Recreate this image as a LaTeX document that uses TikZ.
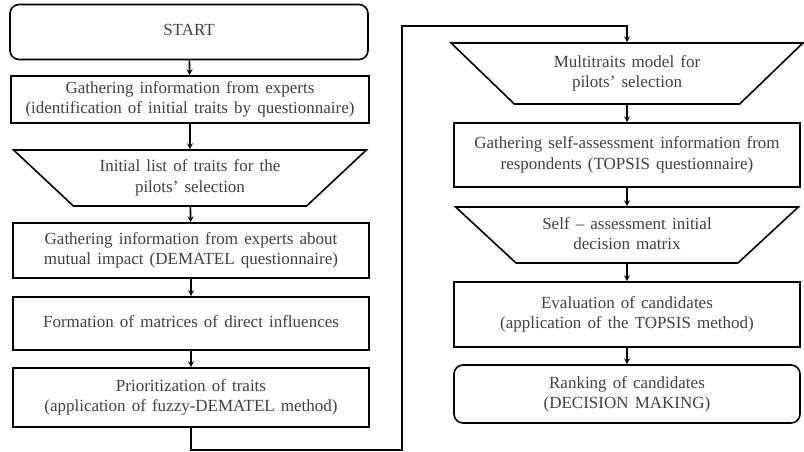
\documentclass[tikz,border=0pt]{standalone}
\usepackage{fontspec}
\setmainfont{Liberation Serif}
\usetikzlibrary{shapes.geometric}
\newcommand{\boxfont}{\fontsize{17}{20}\selectfont\spaceskip=0.36em plus 0.1em}
\tikzstyle{block} = [rectangle, draw, line width=1.6pt, inner sep=0pt, text=black!75, font=\boxfont]
\tikzstyle{startstop} = [block, rounded corners=9pt]
\tikzstyle{datablock} = [trapezium, draw, line width=1.6pt, inner sep=0pt, trapezium stretches=true, shape border rotate=180, text=black!75, font=\boxfont]
\tikzstyle{arrow} = [line width=1.6pt,->,>=stealth]

\begin{document}
\begin{tikzpicture}[x = 1pt, y = -1pt]
\useasboundingbox (0,0) rectangle (804,452);

% ----------------------------------------------------
% left column (fuzzy-DEMATEL part)
% ----------------------------------------------------

  \node (start) [startstop, minimum width=358pt, minimum height=55pt] at (189, 32) {
  \begin{tabular}{c}
    START
  \end{tabular}
  };
  \node (experts) [block, minimum width=358pt, minimum height=47pt] at (190, 99.5) {
  \begin{tabular}{c}
    Gathering information from experts \\
    (identification of initial traits by questionnaire)
  \end{tabular}
  };
  \node (initlist) [datablock, trapezium left angle=39, trapezium right angle=39,
        minimum width=354pt, minimum height=56pt] at (190, 178) {
  \begin{tabular}{c}
    Initial list of traits for the \\
    pilots' selection
  \end{tabular}
  };
  \node (impact) [block, minimum width=356pt, minimum height=55pt] at (191, 250.5) {
  \begin{tabular}{c}
    Gathering information from experts about \\
    mutual impact (DEMATEL questionnaire)
  \end{tabular}
  };
  \node (matrices) [block, minimum width=356pt, minimum height=53pt] at (191, 323.5) {
  \begin{tabular}{c}
    Formation of matrices of direct influences
  \end{tabular}
  };
  \node (priority) [block, minimum width=356pt, minimum height=59pt] at (191, 397.5) {
  \begin{tabular}{c}
    Prioritization of traits \\
    (application of fuzzy-DEMATEL method)
  \end{tabular}
  };

% ----------------------------------------------------
% right column (TOPSIS part)
% ----------------------------------------------------

  \node (model) [datablock, trapezium left angle=42, trapezium right angle=42,
        minimum width=352pt, minimum height=61pt] at (627, 73.5) {
  \begin{tabular}{c}
    Multitraits model for \\
    pilots' selection
  \end{tabular}
  };
  \node (selfinfo) [block, minimum width=346pt, minimum height=64pt] at (627, 155) {
  \begin{tabular}{c}
    Gathering self-assessment information from \\
    respondents (TOPSIS questionnaire)
  \end{tabular}
  };
  \node (selfmatrix) [datablock, trapezium left angle=39, trapezium right angle=39,
        minimum width=344pt, minimum height=56pt] at (627, 235) {
  \begin{tabular}{c}
    Self -- assessment initial \\
    decision matrix
  \end{tabular}
  };
  \node (evaluation) [block, minimum width=346pt, minimum height=65pt] at (627, 314.5) {
  \begin{tabular}{c}
    Evaluation of candidates \\
    (application of the TOPSIS method)
  \end{tabular}
  };
  \node (ranking) [startstop, minimum width=346pt, minimum height=58pt] at (627, 394) {
  \begin{tabular}{c}
    Ranking of candidates \\
    (DECISION MAKING)
  \end{tabular}
  };

  \coordinate (lowturn) at (402, 450);
  \coordinate (highturn) at (402, 26);

  \draw[arrow] (start) -- (experts);
  \draw[arrow] (experts) -- (initlist);
  \draw[arrow] (initlist) -- (impact);
  \draw[arrow] (impact) -- (matrices);
  \draw[arrow] (matrices) -- (priority);
  \draw[arrow] (priority.south) |- (lowturn) -- (highturn) -| (model.north);
  \draw[arrow] (model) -- (selfinfo);
  \draw[arrow] (selfinfo) -- (selfmatrix);
  \draw[arrow] (selfmatrix) -- (evaluation);
  \draw[arrow] (evaluation) -- (ranking);

\end{tikzpicture}
\end{document}
